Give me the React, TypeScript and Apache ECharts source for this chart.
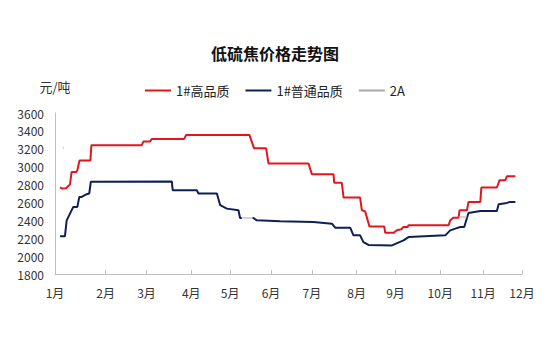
import React, { useEffect, useRef } from "react";
import * as echarts from "echarts";

const title = "低硫焦价格走势图";
const unitLabel = "元/吨";
const monthLabels = ["1月", "2月", "3月", "4月", "5月", "6月", "7月", "8月", "9月", "10月", "11月", "12月"];
// positions of month starts on the trading-day axis
const monthTicks = [0, 26, 47, 70, 90, 111, 132, 155, 175, 198, 220, 240];

const seriesNames = ["1#高品质", "1#普通品质", "2A"];

const highQuality: (number | null)[][] = [
  [2.6, 2770], [3.6, 2755], [5.6, 2760], [7.7, 2800], [8.5, 2940], [10.8, 2940], [11.5, 2960],
  [12.6, 3070], [18.2, 3070], [18.7, 3240], [44.6, 3240], [45.4, 3280], [48.9, 3280], [49.7, 3310],
  [66.4, 3310], [67.4, 3355], [99.9, 3355], [102.3, 3205], [108.5, 3205], [109.7, 3036],
  [130.3, 3036], [132, 2916], [143.1, 2916], [143.5, 2820], [147.4, 2820], [148.3, 2655],
  [156.8, 2655], [157.7, 2512], [159.4, 2500], [161.6, 2330], [169.2, 2330], [169.7, 2260],
  [174, 2260], [175.7, 2290], [178, 2300], [179.1, 2325], [181.2, 2325], [181.7, 2345],
  [202.3, 2345], [203.1, 2400], [204.8, 2430], [207.4, 2430], [207.9, 2512], [211.7, 2512],
  [212.5, 2606], [218.6, 2606], [219.1, 2767], [227.1, 2767], [228.5, 2849], [231.4, 2849],
  [232.3, 2894], [236.6, 2894],
];

const normalQuality: (number | null)[][] = [
  [2.6, 2221], [5.1, 2221], [6, 2400], [7.7, 2475], [9.4, 2550], [11.5, 2550], [12.5, 2662],
  [13.7, 2662], [16.3, 2692], [17.6, 2700], [18.4, 2830], [60, 2835], [60.5, 2737], [72.9, 2737],
  [73.7, 2700], [83.2, 2700], [84.9, 2569], [88.3, 2531], [94.3, 2512], [95.1, 2426], [96, 2426],
  [null, null],
  [101.5, 2426], [102, 2426], [103.7, 2400], [115.7, 2390], [132.8, 2381], [142.3, 2363],
  [144, 2318], [151.7, 2318], [153.4, 2232], [156.8, 2232], [158.5, 2157], [161.1, 2125],
  [173.2, 2120], [179.1, 2176], [181.7, 2213], [200.6, 2232], [203.1, 2288], [205.7, 2307],
  [208.3, 2325], [210.3, 2325], [212.5, 2482], [218.6, 2505], [227.1, 2505], [228, 2580],
  [231.4, 2590], [234, 2606], [236.6, 2606],
];

const grade2A: (number | null)[][] = [
  [4.0, 3210], [4.6, 3210],
  [null, null],
  [96, 2426], [101.5, 2426],
  [null, null],
  [207.4, 2437], [211.8, 2437],
];

const FONT = "Noto Sans CJK SC";

export default function App() {
  const ref = useRef<HTMLDivElement>(null);
  useEffect(() => {
    document.body.style.margin = "0";
    if (!ref.current) return;
    const chart = echarts.init(ref.current, undefined, { renderer: "svg" });
    chart.setOption({
      animation: false,
      backgroundColor: "#ffffff",
      textStyle: { fontFamily: FONT },
      title: {
        text: title,
        left: "center",
        top: 40,
        textStyle: { fontSize: 16, fontWeight: "bold", color: "#111", fontFamily: FONT },
      },
      legend: {
        top: 79,
        left: "center",
        itemWidth: 26,
        itemHeight: 2,
        itemGap: 16,
        textStyle: { fontSize: 13, color: "#222", fontFamily: FONT },
        data: seriesNames.map((n) => ({ name: n, icon: "rect" })),
      },
      grid: { left: 55, right: 28, top: 113, bottom: 88, containLabel: false },
      xAxis: {
        type: "value",
        min: monthTicks[0],
        max: monthTicks[monthTicks.length - 1],
        axisLine: { show: true, lineStyle: { color: "#bfbfbf", width: 1 } },
        axisTick: { show: true, inside: true, length: 4, lineStyle: { color: "#bfbfbf" }, customValues: monthTicks },
        axisLabel: {
          customValues: monthTicks,
          formatter: (v: number) => monthLabels[monthTicks.indexOf(v)] ?? "",
          color: "#333",
          fontSize: 12,
          margin: 12,
          fontFamily: FONT,
        },
        splitLine: { show: false },
      },
      yAxis: {
        type: "value",
        min: 1800,
        max: 3600,
        interval: 200,
        name: unitLabel,
        nameLocation: "end",
        nameGap: 20,
        nameTextStyle: { fontSize: 13, color: "#333", fontFamily: FONT, align: "center" },
        axisLine: { show: true, lineStyle: { color: "#bfbfbf", width: 1 } },
        axisTick: { show: false },
        axisLabel: { color: "#333", fontSize: 12, margin: 11, fontFamily: FONT, formatter: (v: number) => String(v) },
        splitLine: { show: false },
      },
      series: [
        {
          name: seriesNames[0],
          type: "line",
          data: highQuality,
          showSymbol: false,
          connectNulls: false,
          lineStyle: { color: "#e3161e", width: 2 },
          itemStyle: { color: "#e3161e" },
        },
        {
          name: seriesNames[1],
          type: "line",
          data: normalQuality,
          showSymbol: false,
          connectNulls: false,
          lineStyle: { color: "#0f1f55", width: 2 },
          itemStyle: { color: "#0f1f55" },
        },
        {
          name: seriesNames[2],
          type: "line",
          data: grade2A,
          showSymbol: false,
          connectNulls: false,
          lineStyle: { color: "#a6a6a6", width: 1 },
          itemStyle: { color: "#a6a6a6" },
        },
      ],
    });
    return () => chart.dispose();
  }, []);
  return <div ref={ref} style={{ width: 550, height: 362 }} />;
}
